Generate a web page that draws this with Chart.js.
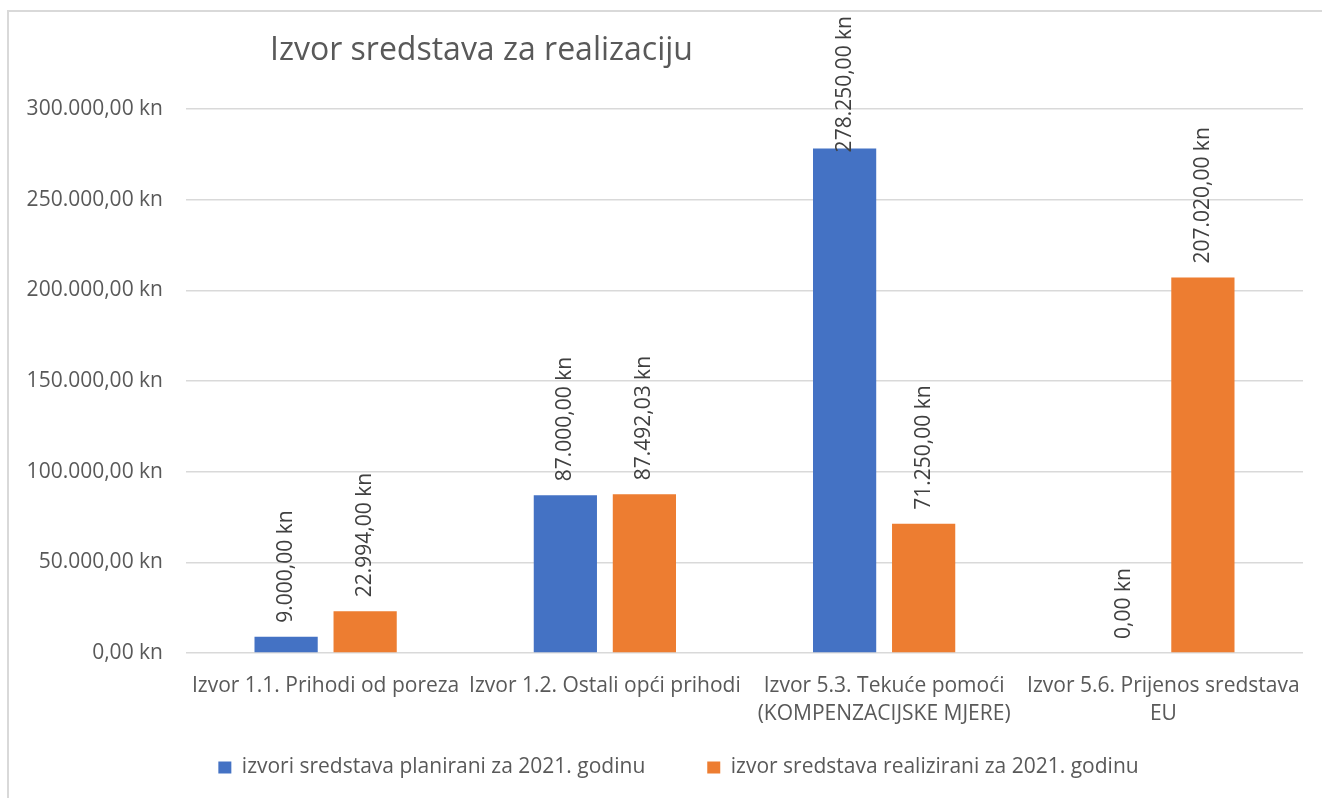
<!DOCTYPE html>
<html>
<head>
<meta charset="utf-8">
<script src="https://cdn.jsdelivr.net/npm/chart.js@4.4.0/dist/chart.umd.min.js"></script>
<style>
  html, body { margin: 0; padding: 0; background: #fff; overflow: hidden; }
  #wrap { width: 1322px; height: 798px; position: relative; }
</style>
</head>
<body>
<div id="wrap"><canvas id="graph" width="1322" height="798"></canvas></div>
<script>
"use strict";
const TITLE = "Izvor sredstava za realizaciju";
const CATEGORIES = [
    "Izvor 1.1. Prihodi od poreza",
    "Izvor 1.2. Ostali opći prihodi",
    ["Izvor 5.3. Tekuće pomoći", "(KOMPENZACIJSKE MJERE)"],
    ["Izvor 5.6. Prijenos sredstava", "EU"],
];
const SERIES_NAMES = [
    "izvori sredstava planirani za 2021. godinu",
    "izvor sredstava realizirani za 2021. godinu",
];
const PLANNED = [9000, 87000, 278250, 0];
const REALIZED = [22994, 87492.03, 71250, 207020];
const Y_MAX = 300000;
const Y_STEP = 50000;

const FONT = "'Open Sans', 'Noto Sans', sans-serif";
const GREY = "#595959";

// Croatian number format: 87.492,03 kn
function fmtKn(v) {
    const parts = v.toFixed(2).split(".");
    const intPart = parts[0].replace(/\B(?=(\d{3})+(?!\d))/g, ".");
    return intPart + "," + parts[1] + " kn";
}

const frameAndTitle = {
    id: "frameAndTitle",
    beforeDraw(chart) {
        const ctx = chart.ctx;
        ctx.save();
        ctx.strokeStyle = "#d9d9d9";
        ctx.lineWidth = 2;
        ctx.beginPath();
        ctx.moveTo(8, 900);
        ctx.lineTo(8, 11);
        ctx.lineTo(1400, 11);
        ctx.stroke();
        ctx.fillStyle = GREY;
        ctx.font = "32px " + FONT;
        ctx.textAlign = "left";
        ctx.textBaseline = "alphabetic";
        ctx.fillText(TITLE, 270, 60);
        ctx.restore();
    },
};

// nudge the legend row: Chart.js ties row offset and item gap to one padding
const legendShift = {
    id: "legendShift",
    afterLayout(chart) {
        const lg = chart.legend;
        lg.top -= 40;
        lg.bottom -= 40;
        lg.left += 27;
        lg.right += 27;
    },
};

// rotated value labels above the bars
const barLabels = {
    id: "barLabels",
    afterDatasetsDraw(chart) {
        const ctx = chart.ctx;
        ctx.save();
        ctx.font = "21px " + FONT;
        ctx.fillStyle = "#404040";
        ctx.textAlign = "left";
        ctx.textBaseline = "middle";
        chart.data.datasets.forEach(function (ds, di) {
            const meta = chart.getDatasetMeta(di);
            meta.data.forEach(function (bar, i) {
                const txt = fmtKn(ds.data[i]);
                const w = ctx.measureText(txt).width;
                let start = bar.y - 14;
                if (start - w < 16) start = 16 + w;
                ctx.save();
                ctx.translate(bar.x, start);
                ctx.rotate(-Math.PI / 2);
                ctx.fillText(txt, 0, 0);
                ctx.restore();
            });
        });
        ctx.restore();
    },
};

function drawGraph() {
    const data = {
        labels: CATEGORIES,
        datasets: [
            {
                label: SERIES_NAMES[0],
                data: PLANNED,
                backgroundColor: "#4472C4",
                categoryPercentage: 0.566,
                barPercentage: 0.8,
            },
            {
                label: SERIES_NAMES[1],
                data: REALIZED,
                backgroundColor: "#ED7D31",
                categoryPercentage: 0.566,
                barPercentage: 0.8,
            },
        ],
    };
    const config = {
        type: "bar",
        data,
        plugins: [frameAndTitle, legendShift, barLabels],
        options: {
            responsive: false,
            animation: false,
            layout: {
                padding: { top: 109, right: 19, left: 0, bottom: -30 },
            },
            plugins: {
                title: { display: false },
                tooltip: { enabled: false },
                legend: {
                    position: "bottom",
                    labels: {
                        boxWidth: 13,
                        boxHeight: 12,
                        padding: 62,
                        color: GREY,
                        font: { family: FONT, size: 21 },
                    },
                },
            },
            scales: {
                x: {
                    grid: { display: false, drawTicks: false },
                    border: { display: false },
                    ticks: {
                        color: GREY,
                        font: { family: FONT, size: 21, lineHeight: 1.33 },
                        padding: 19,
                        maxRotation: 0,
                        autoSkip: false,
                    },
                    afterFit(scale) {
                        scale.height = 82;
                    },
                },
                y: {
                    min: 0,
                    max: Y_MAX,
                    grid: { color: "#d9d9d9", lineWidth: 1.5, drawTicks: false },
                    border: { display: false },
                    ticks: {
                        stepSize: Y_STEP,
                        color: GREY,
                        font: { family: FONT, size: 21 },
                        padding: 23,
                        callback: function (v) {
                            return fmtKn(v);
                        },
                    },
                    afterFit(scale) {
                        scale.width = 186;
                    },
                },
            },
        },
    };
    new Chart(document.getElementById("graph"), config);
}
drawGraph();
</script>
</body>
</html>
